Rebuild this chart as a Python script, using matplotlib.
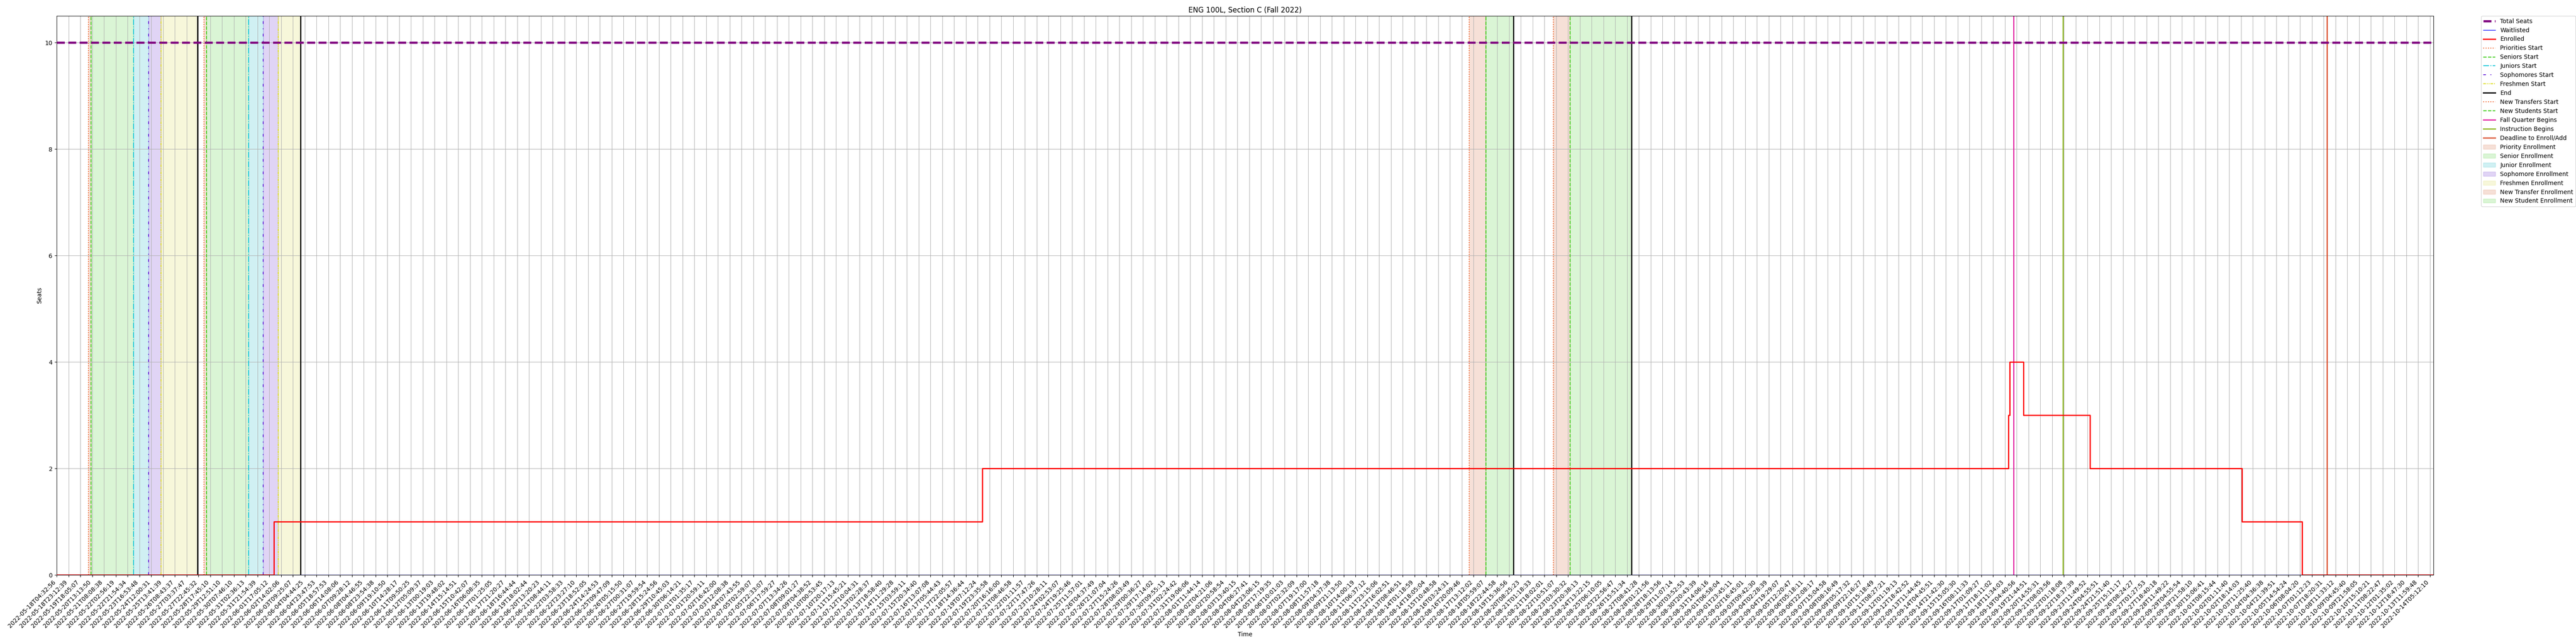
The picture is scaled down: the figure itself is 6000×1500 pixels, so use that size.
#!/usr/bin/env python3

import numpy as np
import matplotlib
matplotlib.use('Agg')
from matplotlib import pyplot as plt
import matplotlib.dates as mdates
from matplotlib.lines import Line2D
from matplotlib.patches import Patch

# sample times shown as x tick labels (axis is spaced by sample, not by time)
tick_labels = [
    "2022-05-18T04:32:56", "2022-05-18T23:12:39", "2022-05-19T18:05:07", "2022-05-20T13:13:50",
    "2022-05-21T08:08:38", "2022-05-22T02:56:19", "2022-05-22T21:54:34", "2022-05-23T16:53:48",
    "2022-05-24T12:00:31", "2022-05-25T13:41:39", "2022-05-26T08:43:37", "2022-05-27T03:37:47",
    "2022-05-27T22:45:32", "2022-05-28T17:45:10", "2022-05-29T12:51:10", "2022-05-30T07:46:10",
    "2022-05-31T02:36:13", "2022-05-31T21:54:39", "2022-06-01T17:05:12", "2022-06-02T14:02:06",
    "2022-06-03T09:25:07", "2022-06-04T04:44:25", "2022-06-04T23:47:53", "2022-06-05T18:57:53",
    "2022-06-06T14:08:06", "2022-06-07T09:28:12", "2022-06-08T04:46:55", "2022-06-08T23:54:38",
    "2022-06-09T19:10:50", "2022-06-10T14:28:17", "2022-06-11T09:50:25", "2022-06-12T05:09:37",
    "2022-06-13T00:19:03", "2022-06-13T19:48:02", "2022-06-14T15:14:51", "2022-06-15T10:42:07",
    "2022-06-16T06:08:35", "2022-06-17T01:25:05", "2022-06-17T21:20:27", "2022-06-18T16:44:44",
    "2022-06-19T18:02:44", "2022-06-20T13:20:23", "2022-06-21T08:44:11", "2022-06-22T03:58:33",
    "2022-06-22T23:27:10", "2022-06-23T18:52:05", "2022-06-24T14:24:53", "2022-06-25T09:47:09",
    "2022-06-26T05:15:50", "2022-06-27T00:31:07", "2022-06-27T19:59:54", "2022-06-28T15:24:56",
    "2022-06-29T10:45:03", "2022-06-30T06:14:21", "2022-07-01T01:35:17", "2022-07-01T20:59:11",
    "2022-07-02T16:42:00", "2022-07-03T12:08:38", "2022-07-04T07:43:55", "2022-07-05T02:59:07",
    "2022-07-05T22:33:07", "2022-07-06T17:59:27", "2022-07-07T13:34:26", "2022-07-08T09:01:27",
    "2022-07-09T04:38:52", "2022-07-10T00:53:45", "2022-07-10T20:17:13", "2022-07-11T15:45:21",
    "2022-07-12T10:04:31", "2022-07-13T02:28:37", "2022-07-13T18:58:40", "2022-07-14T11:29:28",
    "2022-07-15T03:59:11", "2022-07-15T20:34:40", "2022-07-16T13:07:08", "2022-07-17T05:44:43",
    "2022-07-17T22:05:57", "2022-07-18T14:36:44", "2022-07-19T07:12:24", "2022-07-19T23:35:58",
    "2022-07-20T16:16:00", "2022-07-21T08:46:58", "2022-07-22T01:11:57", "2022-07-22T17:47:26",
    "2022-07-23T10:28:11", "2022-07-24T02:53:07", "2022-07-24T19:25:46", "2022-07-25T11:57:01",
    "2022-07-26T04:37:49", "2022-07-26T21:07:04", "2022-07-27T15:24:26", "2022-07-28T08:03:49",
    "2022-07-29T00:36:27", "2022-07-29T17:14:02", "2022-07-30T09:55:13", "2022-07-31T02:24:42",
    "2022-07-31T19:06:06", "2022-08-01T11:44:14", "2022-08-02T04:21:06", "2022-08-02T20:58:54",
    "2022-08-03T13:40:15", "2022-08-04T06:27:41", "2022-08-04T23:06:15", "2022-08-05T17:19:35",
    "2022-08-06T10:01:03", "2022-08-07T02:32:09", "2022-08-07T19:17:00", "2022-08-08T11:57:18",
    "2022-08-09T04:37:38", "2022-08-09T21:13:50", "2022-08-10T14:00:19", "2022-08-11T06:37:12",
    "2022-08-11T23:15:06", "2022-08-12T16:02:51", "2022-08-13T08:46:51", "2022-08-14T01:18:59",
    "2022-08-14T18:05:04", "2022-08-15T10:48:58", "2022-08-16T03:24:31", "2022-08-16T20:09:46",
    "2022-08-17T13:12:02", "2022-08-18T05:59:07", "2022-08-18T22:44:58", "2022-08-19T15:36:56",
    "2022-08-20T08:25:23", "2022-08-21T01:18:33", "2022-08-21T18:02:01", "2022-08-22T10:51:07",
    "2022-08-23T03:30:32", "2022-08-23T20:38:13", "2022-08-24T13:22:15", "2022-08-25T06:10:05",
    "2022-08-25T22:56:47", "2022-08-26T15:51:34", "2022-08-27T08:41:28", "2022-08-28T01:21:56",
    "2022-08-28T18:13:56", "2022-08-29T11:07:14", "2022-08-30T03:52:53", "2022-08-30T20:43:39",
    "2022-08-31T14:06:16", "2022-09-01T06:58:04", "2022-09-01T23:45:11", "2022-09-02T16:45:01",
    "2022-09-03T09:42:30", "2022-09-04T02:28:39", "2022-09-04T19:29:07", "2022-09-05T12:20:47",
    "2022-09-06T05:18:11", "2022-09-06T22:08:17", "2022-09-07T15:04:58", "2022-09-08T08:16:49",
    "2022-09-09T05:17:32", "2022-09-09T22:16:27", "2022-09-10T15:18:49", "2022-09-11T08:27:21",
    "2022-09-12T01:19:13", "2022-09-12T18:42:52", "2022-09-13T11:44:45", "2022-09-14T04:45:51",
    "2022-09-14T21:42:30", "2022-09-15T15:05:30", "2022-09-16T08:11:33", "2022-09-17T01:09:27",
    "2022-09-17T18:11:02", "2022-09-18T11:34:03", "2022-09-19T04:40:56", "2022-09-19T21:44:51",
    "2022-09-20T14:55:31", "2022-09-21T08:03:56", "2022-09-22T01:18:08", "2022-09-22T18:37:39",
    "2022-09-23T11:49:52", "2022-09-24T04:55:51", "2022-09-24T21:51:40", "2022-09-25T15:11:17",
    "2022-09-26T08:24:27", "2022-09-27T01:27:53", "2022-09-27T18:40:18", "2022-09-28T11:49:22",
    "2022-09-29T04:55:54", "2022-09-29T21:58:10", "2022-09-30T15:06:41", "2022-10-01T08:15:44",
    "2022-10-02T01:11:40", "2022-10-02T18:14:03", "2022-10-03T11:25:40", "2022-10-04T04:36:38",
    "2022-10-04T21:39:51", "2022-10-05T14:54:24", "2022-10-06T08:04:20", "2022-10-07T01:12:23",
    "2022-10-07T18:20:31", "2022-10-08T11:33:12", "2022-10-09T04:45:40", "2022-10-09T21:58:05",
    "2022-10-10T15:10:21", "2022-10-11T08:22:47", "2022-10-12T01:35:02", "2022-10-12T18:47:30",
    "2022-10-13T11:59:48", "2022-10-14T05:12:10",
]
# last scraped sample (right end of the axis)
last_sample = "2022-10-14T10:20:00"

title = "ENG 100L, Section C (Fall 2022)"

total_seats_times = [tick_labels[0], last_sample]
total_seats = [10, 10]

waitlisted_times = [tick_labels[0], last_sample]
waitlisted = [0, 0]

enrolled_times = [tick_labels[0], "2022-06-02T01:15", "2022-07-19T13:45",
                  "2022-09-18T16:32", "2022-09-18T18:25", "2022-09-19T14:23",
                  "2022-09-23T15:05", "2022-10-02T19:47", "2022-10-06T10:59",
                  last_sample]
enrolled = [0, 1, 2, 3, 4, 3, 2, 1, 0, 0]

priorities_start = ["2022-05-20T07:15", "2022-05-28T07:40"]
seniors_start = ["2022-05-20T11:40", "2022-05-28T11:50"]
juniors_start = ["2022-05-23T07:50", "2022-05-31T07:35"]
sophomores_start = ["2022-05-24T07:45", "2022-06-01T07:30"]
freshmen_start = ["2022-05-25T09:35", "2022-06-02T09:00"]
pass_end = ["2022-05-27T21:25", "2022-06-03T21:45"]
new_transfers_start = ["2022-08-17T07:05", "2022-08-22T06:40"]
new_students_start = ["2022-08-18T06:40", "2022-08-23T06:35"]
new_end = ["2022-08-19T22:00", "2022-08-26T21:55"]
fall_quarter_begins = ["2022-09-19T00:00"]
instruction_begins = ["2022-09-22T00:00"]
deadline_add = ["2022-10-07T23:00"]


def num(ts):
    return mdates.datestr2num(list(ts))


tick_nums = num(tick_labels)
idx = np.arange(len(tick_nums), dtype=float)


def forward(x):
    x = np.asarray(x, dtype=float)
    y = np.interp(x, tick_nums, idx)
    lo = (x - tick_nums[0]) / (tick_nums[1] - tick_nums[0])
    hi = idx[-1] + (x - tick_nums[-1]) / (tick_nums[-1] - tick_nums[-2])
    return np.where(x < tick_nums[0], lo, np.where(x > tick_nums[-1], hi, y))


def inverse(y):
    y = np.asarray(y, dtype=float)
    x = np.interp(y, idx, tick_nums)
    lo = tick_nums[0] + y * (tick_nums[1] - tick_nums[0])
    hi = tick_nums[-1] + (y - idx[-1]) * (tick_nums[-1] - tick_nums[-2])
    return np.where(y < 0, lo, np.where(y > idx[-1], hi, x))


fig, ax = plt.subplots(figsize=(60, 15), dpi=100)
fig.subplots_adjust(left=0.022, right=0.9447, bottom=0.1073, top=0.9753)
ax.set_xscale('function', functions=(forward, inverse))

# enrollment windows
c_orange = '#f0642d'
c_green = '#3fcc1a'
c_cyan = '#1cc8d8'
c_purple = '#6a28d8'
c_yellow = '#dede2a'

spans = [
    (priorities_start, seniors_start, '#d2643a', 'Priority Enrollment'),
    (seniors_start, juniors_start, '#46cd2d', 'Senior Enrollment'),
    (juniors_start, sophomores_start, '#14b4c3', 'Junior Enrollment'),
    (sophomores_start, freshmen_start, '#6428cd', 'Sophomore Enrollment'),
    (freshmen_start, pass_end, '#d7d746', 'Freshmen Enrollment'),
    (new_transfers_start, new_students_start, '#d2643a', 'New Transfer Enrollment'),
    (new_students_start, new_end, '#46cd2d', 'New Student Enrollment'),
]
span_handles = []
for starts, ends, col, lab in spans:
    for a, b in zip(num(starts), num(ends)):
        ax.axvspan(a, b, color=col, alpha=0.2, zorder=0.8)
    span_handles.append(Patch(facecolor=col, edgecolor=col, alpha=0.2, label=lab))

events = [
    (priorities_start, c_orange, ':', 1.5, 'Priorities Start'),
    (seniors_start, c_green, '--', 1.5, 'Seniors Start'),
    (juniors_start, c_cyan, '-.', 1.5, 'Juniors Start'),
    (sophomores_start, c_purple, (0, (3, 5, 1, 5)), 1.5, 'Sophomores Start'),
    (freshmen_start, c_yellow, (0, (3, 1, 1, 1, 1, 1)), 1.5, 'Freshmen Start'),
    (pass_end + new_end, 'black', '-', 2, 'End'),
    (new_transfers_start, c_orange, ':', 1.5, 'New Transfers Start'),
    (new_students_start, c_green, '--', 1.5, 'New Students Start'),
    (fall_quarter_begins, '#e0149c', '-', 1.8, 'Fall Quarter Begins'),
    (instruction_begins, '#88b414', '-', 1.8, 'Instruction Begins'),
    (deadline_add, '#d84420', '-', 1.8, 'Deadline to Enroll/Add'),
]
event_handles = []
for times, col, ls, lw, lab in events:
    for t in num(times):
        ax.axvline(t, color=col, linestyle=ls, linewidth=lw, zorder=2)
    event_handles.append(Line2D([], [], color=col, linestyle=ls, linewidth=lw, label=lab))

h_total, = ax.step(num(total_seats_times), total_seats, where='post', color='purple',
                   linestyle='--', linewidth=3.6, label='Total Seats', zorder=3)
h_wait, = ax.step(num(waitlisted_times), waitlisted, where='post', color='blue',
                  linewidth=1, label='Waitlisted', zorder=3)
h_enr, = ax.step(num(enrolled_times), enrolled, where='post', color='red',
                 linewidth=2, label='Enrolled', zorder=4)

ax.set_xlim(tick_nums[0], num([last_sample])[0])
ax.set_ylim(0, 10.5)
ax.set_xticks(tick_nums)
ax.set_xticklabels(tick_labels, rotation=45, ha='right')
ax.grid(True)

ax.set_title(title)
ax.set_xlabel('Time')
ax.set_ylabel('Seats')

handles = [h_total, h_wait, h_enr] + event_handles + span_handles
ax.legend(handles=handles, loc='upper left', bbox_to_anchor=(1.02, 1), borderaxespad=0)

plt.savefig('out.png', dpi=100)
